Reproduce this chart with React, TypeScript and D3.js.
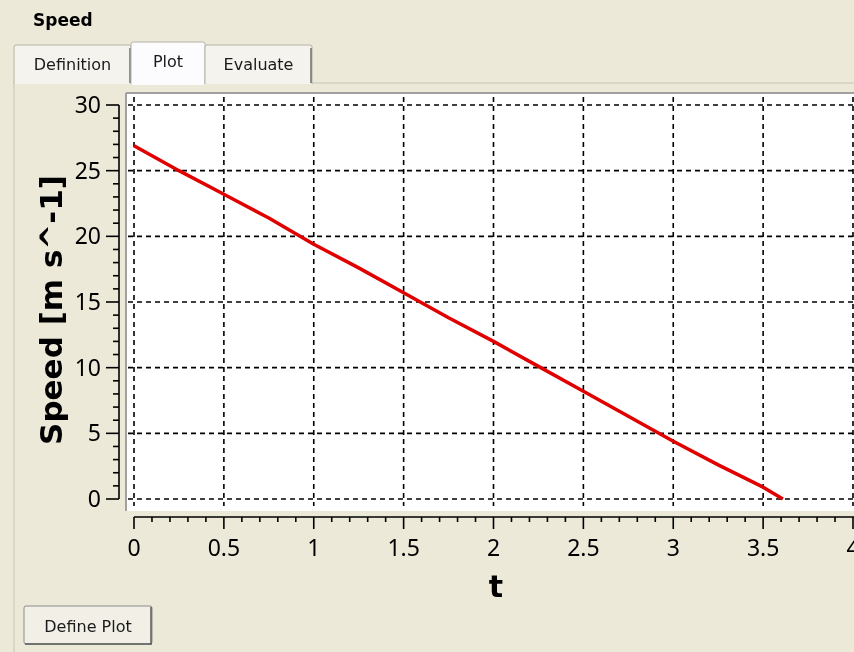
import * as d3 from "d3";

// speed curve
const times = [0, 0.25, 0.5, 0.75, 1, 1.25, 1.5, 1.75, 2, 2.25, 2.5, 2.75, 3, 3.25, 3.5, 3.61];
const speeds = [26.9, 25.0, 23.2, 21.4, 19.4, 17.6, 15.7, 13.8, 12.0, 10.1, 8.2, 6.3, 4.4, 2.6, 0.9, 0];
const xTicks = [0, 0.5, 1, 1.5, 2, 2.5, 3, 3.5, 4];
const yTicks = [0, 5, 10, 15, 20, 25, 30];
const tabs = ["Definition", "Plot", "Evaluate"];

const W = 854;
const H = 652;
const BG = "#ECE9D8";
const UI = "Tahoma, 'DejaVu Sans', sans-serif";
const NUM = "'Noto Sans', 'DejaVu Sans', sans-serif";

export default function App() {
  const x = d3.scaleLinear().domain([0, 4]).range([134, 853]);
  const y = d3.scaleLinear().domain([0, 30]).range([499, 105]);

  const xMinor = d3.range(0, 4.0001, 0.1).map((v) => +v.toFixed(2));
  const yMinor = d3.range(0, 30.0001, 1);

  const line = d3
    .line<number>()
    .x((_, i) => x(times[i]))
    .y((d) => y(d));

  const tabX = [14, 131, 205, 312];

  return (
    <svg
      width={W}
      height={H}
      style={{ position: "fixed", left: 0, top: 0, display: "block" }}
    >
      <rect width={W} height={H} fill={BG} />

      {/* window title */}
      <text x={33} y={26} fontFamily={UI} fontSize={17} fontWeight="bold" fill="#000">
        Speed
      </text>

      {/* panel */}
      <rect x={14} y={83} width={W} height={H} fill={BG} stroke="#C9C6B8" strokeWidth={1} />

      {/* tabs */}
      {tabs.map((t, i) => {
        const sel = t === "Plot";
        const x0 = tabX[i];
        const x1 = tabX[i + 1];
        const top = sel ? 42 : 45;
        return (
          <g key={t}>
            <path
              d={`M${x0},84 L${x0},${top + 2} Q${x0},${top} ${x0 + 2},${top} L${x1 - 2},${top} Q${x1},${top} ${x1},${top + 2} L${x1},84`}
              fill={sel ? "#FCFCFE" : "#F4F3EE"}
              stroke="#B5B2A6"
            />
            {!sel && <line x1={x1 - 1} x2={x1 - 1} y1={top + 3} y2={83} stroke="#6E6E6E" strokeWidth={1.5} />}
            <text
              x={(x0 + x1) / 2}
              y={top + 25}
              textAnchor="middle"
              fontFamily={UI}
              fontSize={16}
              fill="#1a1a1a"
            >
              {t}
            </text>
          </g>
        );
      })}
      <line x1={132} x2={204} y1={84} y2={84} stroke="#FCFCFE" strokeWidth={2} />

      {/* plot area */}
      <rect x={126} y={93} width={W - 126} height={418} fill="#fff" />
      <line x1={126} x2={126} y1={93} y2={511} stroke="#A0A0A0" strokeWidth={2} />
      <line x1={126} x2={W} y1={93} y2={93} stroke="#A0A0A0" strokeWidth={2} />

      {/* grid */}
      <g stroke="#000" strokeWidth={1.6} strokeDasharray="5,4">
        {xTicks.map((v) => (
          <line key={"gx" + v} x1={x(v)} x2={x(v)} y1={97} y2={506} />
        ))}
        {yTicks.map((v) => (
          <line key={"gy" + v} x1={128} x2={W} y1={y(v)} y2={y(v)} />
        ))}
      </g>

      {/* data */}
      <path d={line(speeds) ?? ""} fill="none" stroke="#E00000" strokeWidth={3.5} strokeLinejoin="round" />

      {/* y axis */}
      <g stroke="#000" strokeWidth={1.6}>
        <line x1={119} x2={119} y1={y(30)} y2={y(0)} />
        {yMinor.map((v) => {
          const major = v % 5 === 0;
          return <line key={"yt" + v} x1={major ? 106 : 113} x2={119} y1={y(v)} y2={y(v)} />;
        })}
      </g>
      {yTicks.map((v) => (
        <text
          key={"yl" + v}
          x={101}
          y={y(v) + 8}
          textAnchor="end"
          fontFamily={NUM}
          fontSize={23}
          fill="#000"
        >
          {v}
        </text>
      ))}

      {/* x axis */}
      <g stroke="#000" strokeWidth={1.6}>
        <line x1={x(0)} x2={W} y1={517} y2={517} />
        {xMinor.map((v) => {
          const major = Math.abs(v * 2 - Math.round(v * 2)) < 1e-6;
          return <line key={"xt" + v} x1={x(v)} x2={x(v)} y1={517} y2={major ? 529 : 522} />;
        })}
      </g>
      {xTicks.map((v) => (
        <text
          key={"xl" + v}
          x={x(v)}
          y={556}
          textAnchor="middle"
          fontFamily={NUM}
          fontSize={23}
          fill="#000"
        >
          {v}
        </text>
      ))}

      {/* axis titles */}
      <text
        transform={`translate(62,310) rotate(-90)`}
        textAnchor="middle"
        fontFamily="'DejaVu Sans', sans-serif"
        fontSize={31}
        fontWeight="bold"
        fill="#000"
      >
        Speed [m s^-1]
      </text>
      <text
        x={496}
        y={597}
        textAnchor="middle"
        fontFamily="'DejaVu Sans', sans-serif"
        fontSize={30}
        fontWeight="bold"
        fill="#000"
      >
        t
      </text>

      {/* button */}
      <rect x={24} y={606} width={128} height={38} rx={2} fill="#F1EFE6" stroke="#8C8C8C" />
      <line x1={151} x2={151} y1={607} y2={644} stroke="#5A5A5A" strokeWidth={1.5} />
      <line x1={25} x2={152} y1={644} y2={644} stroke="#5A5A5A" strokeWidth={1.5} />
      <text x={88} y={632} textAnchor="middle" fontFamily={UI} fontSize={16} fill="#1a1a1a">
        Define Plot
      </text>
    </svg>
  );
}
